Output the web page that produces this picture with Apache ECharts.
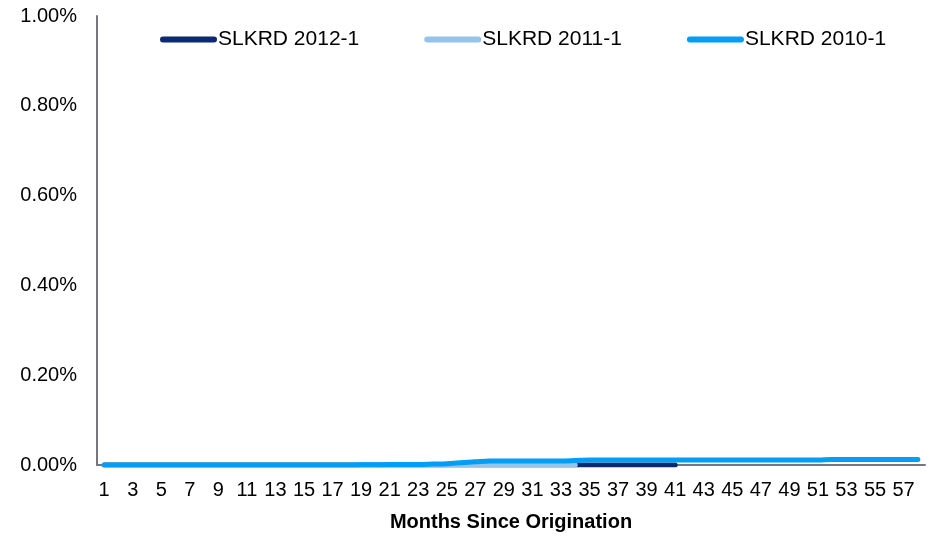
<!DOCTYPE html>
<html>
<head>
<meta charset="utf-8">
<title>Cumulative Default by Months Since Origination</title>
<script src="https://cdn.jsdelivr.net/npm/echarts@6/dist/echarts.min.js"></script>
<style>
  html, body { margin: 0; padding: 0; background: #ffffff; }
  #chart { width: 931px; height: 536px; }
</style>
</head>
<body>
<div id="chart"></div>
<script>
// Months since origination (1..58)
const months = [];
for (let m = 1; m <= 58; m++) months.push(String(m));

// Cumulative rates in percent, one value per month
const slkrd2012 = [
  0, 0, 0, 0, 0, 0, 0, 0, 0, 0,
  0, 0, 0, 0, 0, 0, 0, 0, 0, 0,
  0, 0, 0, 0, 0, 0, 0, 0, 0, 0,
  0, 0, 0, 0, 0, 0, 0, 0, 0, 0,
  0
];
const slkrd2011 = [
  0, 0, 0, 0, 0, 0, 0, 0, 0, 0,
  0, 0, 0, 0, 0, 0, 0, 0, 0, 0,
  0, 0, 0, 0, 0, 0, 0, 0, 0, 0,
  0, 0, 0, 0
];
const slkrd2010 = [
  0, 0, 0, 0, 0, 0, 0, 0, 0, 0,
  0, 0, 0, 0, 0, 0, 0, 0, 0.0005, 0.0005,
  0.001, 0.001, 0.001, 0.002, 0.003, 0.005, 0.007, 0.009, 0.009, 0.009,
  0.009, 0.009, 0.009, 0.010, 0.011, 0.011, 0.011, 0.011, 0.011, 0.011,
  0.011, 0.011, 0.011, 0.011, 0.011, 0.011, 0.011, 0.011, 0.011, 0.011,
  0.011, 0.012, 0.012, 0.012, 0.012, 0.012, 0.012, 0.012
];

const yTicks = { min: 0, max: 1, interval: 0.2 };

const FONT = 'Liberation Sans, Arial, sans-serif';
const colors = ['#0B2A6F', '#95C4EA', '#009EF5'];

// Thick rounded stroke used as the legend key
const legendKey = 'path://M3,0L54,0A3,3,0,0,1,54,6L3,6A3,3,0,0,1,3,0Z';

const chart = echarts.init(document.getElementById('chart'), null, { renderer: 'canvas' });

function lineSeries(name, data, color, z) {
  return {
    name: name,
    type: 'line',
    data: data,
    smooth: 0.3,
    symbol: 'none',
    z: z,
    lineStyle: { color: color, width: 5, cap: 'round', join: 'round' },
    itemStyle: { color: color }
  };
}

chart.setOption({
  animation: false,
  backgroundColor: '#ffffff',
  grid: {
    left: 97, right: 6, top: 16, bottom: 71,
    containLabel: false,
    outerBoundsMode: 'none'
  },
  legend: {
    top: 24,
    left: 155,
    itemGap: 65,
    itemWidth: 57,
    itemHeight: 6,
    icon: legendKey,
    textStyle: { fontFamily: FONT, fontSize: 21, color: '#000000', padding: [0, 0, 0, -4] },
    data: ['SLKRD 2012-1', 'SLKRD 2011-1', 'SLKRD 2010-1']
  },
  xAxis: {
    type: 'category',
    data: months,
    boundaryGap: true,
    name: 'Months Since Origination',
    nameLocation: 'middle',
    nameGap: 47,
    nameTextStyle: { fontFamily: FONT, fontSize: 20, fontWeight: 'bold', color: '#000000' },
    axisLine: { show: true, lineStyle: { color: '#76767E', width: 2 } },
    axisTick: { show: false },
    axisLabel: {
      interval: 1,
      margin: 15,
      fontFamily: FONT,
      fontSize: 20,
      color: '#000000'
    },
    splitLine: { show: false }
  },
  yAxis: {
    type: 'value',
    min: yTicks.min,
    max: yTicks.max,
    interval: yTicks.interval,
    axisLine: { show: true, lineStyle: { color: '#76767E', width: 2 } },
    axisTick: { show: false },
    axisLabel: {
      margin: 20,
      fontFamily: FONT,
      fontSize: 20,
      color: '#000000',
      formatter: v => v.toFixed(2) + '%'
    },
    splitLine: { show: false }
  },
  series: [
    lineSeries('SLKRD 2012-1', slkrd2012, colors[0], 2),
    lineSeries('SLKRD 2011-1', slkrd2011, colors[1], 3),
    lineSeries('SLKRD 2010-1', slkrd2010, colors[2], 4)
  ]
});
</script>
</body>
</html>
